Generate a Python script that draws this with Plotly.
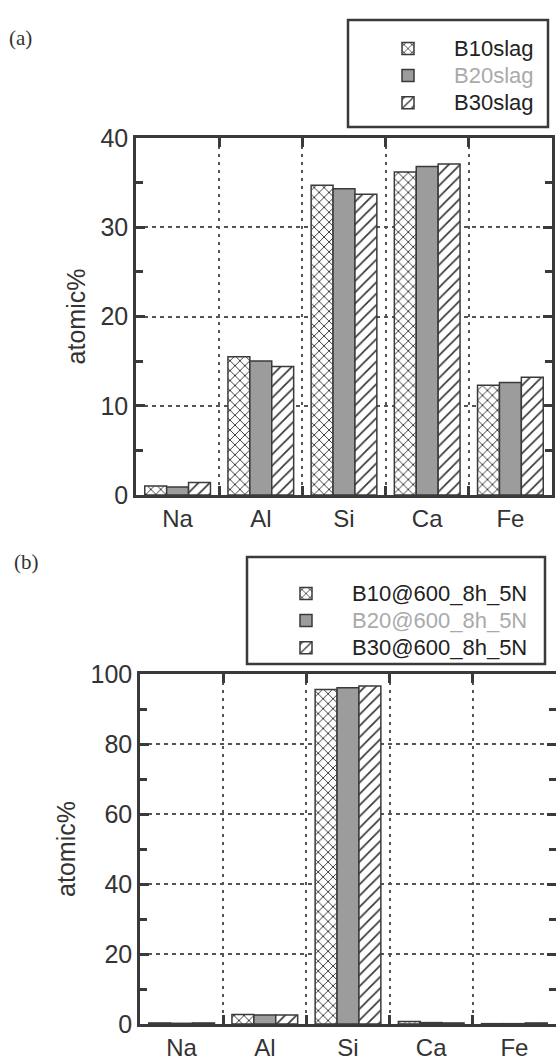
import plotly.graph_objects as go

elements = ["Na", "Al", "Si", "Ca", "Fe"]

names_a = ["B10slag", "B20slag", "B30slag"]
a_b10 = [1.0, 15.5, 34.7, 36.2, 12.3]
a_b20 = [0.9, 15.0, 34.3, 36.8, 12.6]
a_b30 = [1.4, 14.4, 33.7, 37.1, 13.2]

names_b = ["B10@600_8h_5N", "B20@600_8h_5N", "B30@600_8h_5N"]
b_b10 = [0.3, 2.7, 95.6, 0.7, 0.1]
b_b20 = [0.2, 2.6, 96.1, 0.4, 0.1]
b_b30 = [0.3, 2.6, 96.6, 0.3, 0.3]

W, H = 556, 1061
DARK = "#3a3a3a"
GRAY = "#9c9c9c"
FONT = "Liberation Sans, Arial, sans-serif"


def px(x):
    return x / W


def py(y):
    return 1 - y / H


styles = [
    dict(color="white", pattern=dict(shape="x", fgcolor="#333333", bgcolor="white", size=7, solidity=0.25)),
    dict(color=GRAY, pattern=dict(shape="", fgcolor=GRAY)),
    dict(color="white", pattern=dict(shape="/", fgcolor="#333333", bgcolor="white", size=8, solidity=0.2)),
]
text_colors = ["#222222", "#aaaaaa", "#222222"]

fig = go.Figure()

for i, (nm, vals) in enumerate(zip(names_a, [a_b10, a_b20, a_b30])):
    fig.add_trace(go.Bar(
        x=elements, y=vals, xaxis="x", yaxis="y", legend="legend",
        name=f"<span style='font-size:22px;color:{text_colors[i]}'>{nm}</span>",
        marker=dict(line=dict(color=DARK, width=1.5), **styles[i]),
    ))

for i, (nm, vals) in enumerate(zip(names_b, [b_b10, b_b20, b_b30])):
    fig.add_trace(go.Bar(
        x=elements, y=vals, xaxis="x2", yaxis="y2", legend="legend2",
        name=f"<span style='font-size:22px;color:{text_colors[i]}'>{nm}</span>",
        marker=dict(line=dict(color=DARK, width=1.5), **styles[i]),
    ))

xcommon = dict(
    type="category", tickson="boundaries", ticks="inside", ticklen=9, tickwidth=2.5,
    tickcolor=DARK, showline=True, linewidth=2.5, linecolor=DARK, mirror="ticks",
    showgrid=True, gridcolor="#555555", gridwidth=1.5, griddash="3px,5px",
    automargin=False, tickfont=dict(family=FONT, size=24, color="#333333"),
)
ycommon = dict(
    ticks="inside", ticklen=9, tickwidth=2.5, tickcolor=DARK,
    showline=True, linewidth=2.5, linecolor=DARK, mirror="ticks",
    showgrid=True, gridcolor="#555555", gridwidth=1.5, griddash="4px,4px",
    zeroline=False, automargin=False, tickfont=dict(family=FONT, size=25, color="#333333"),
    title=dict(text="atomic%", font=dict(family=FONT, size=25, color="#333333"), standoff=8),
)

fig.update_layout(
    template="none",
    width=W, height=H, margin=dict(l=0, r=0, t=0, b=0, pad=0), autosize=False,
    paper_bgcolor="white", plot_bgcolor="white",
    barmode="group", bargap=0.21, bargroupgap=0,
    xaxis=dict(domain=[px(136), px(552)], anchor="y", **xcommon),
    yaxis=dict(domain=[py(495), py(138)], anchor="x", range=[0, 40],
               tickvals=[0, 10, 20, 30, 40],
               minor=dict(tickvals=[5, 15, 25, 35], ticks="inside", ticklen=7, tickwidth=2.5, tickcolor=DARK),
               **ycommon),
    xaxis2=dict(domain=[px(140), 1.0], anchor="y2", **xcommon),
    yaxis2=dict(domain=[py(1024), py(674)], anchor="x2", range=[0, 100],
                tickvals=[0, 20, 40, 60, 80, 100],
                minor=dict(tickvals=[10, 30, 50, 70, 90], ticks="inside", ticklen=7, tickwidth=2.5, tickcolor=DARK),
                **ycommon),
    legend=dict(x=px(362), y=py(30), xanchor="left", yanchor="top",
                bgcolor="rgba(0,0,0,0)", borderwidth=0, itemwidth=82,
                font=dict(family=FONT, size=18.5), itemclick=False),
    legend2=dict(x=px(260), y=py(575), xanchor="left", yanchor="top",
                 bgcolor="rgba(0,0,0,0)", borderwidth=0, itemwidth=82,
                 font=dict(family=FONT, size=18.5), itemclick=False),
    shapes=[
        dict(type="rect", xref="paper", yref="paper", x0=px(348), x1=px(548), y0=py(127), y1=py(20),
             line=dict(color=DARK, width=2.5), fillcolor="rgba(0,0,0,0)"),
        dict(type="rect", xref="paper", yref="paper", x0=px(247), x1=px(545), y0=py(664), y1=py(557),
             line=dict(color=DARK, width=2.5), fillcolor="rgba(0,0,0,0)"),
    ],
    annotations=[
        dict(text="(a)", x=px(7), y=py(38), xref="paper", yref="paper", xanchor="left", yanchor="middle",
             showarrow=False, font=dict(family="Liberation Serif, Times New Roman, serif", size=21, color="#333333")),
        dict(text="(b)", x=px(12), y=py(562), xref="paper", yref="paper", xanchor="left", yanchor="middle",
             showarrow=False, font=dict(family="Liberation Serif, Times New Roman, serif", size=21, color="#333333")),
    ],
)

fig.write_html("out.html", config={"displayModeBar": False},
               post_script="document.body.style.margin='0';document.body.style.overflow='hidden';")
